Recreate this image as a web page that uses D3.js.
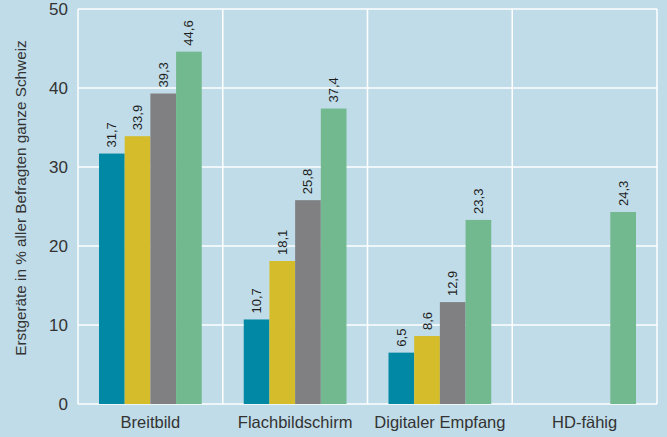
<!DOCTYPE html>
<html>
<head>
<meta charset="utf-8">
<script src="https://cdn.jsdelivr.net/npm/d3@7"></script>
<style>
  html, body { margin: 0; padding: 0; background: #c0dce8; }
  svg { display: block; }
</style>
</head>
<body>
<svg width="667" height="437"></svg>
<script>
// categories and series (4 survey years, last one only for HD)
const categories = ["Breitbild", "Flachbildschirm", "Digitaler Empfang", "HD-fähig"];
const series = ["s1", "s2", "s3", "s4"];
const values = [
  [31.7, 33.9, 39.3, 44.6],
  [10.7, 18.1, 25.8, 37.4],
  [6.5, 8.6, 12.9, 23.3],
  [null, null, null, 24.3]
];
const colors = ["#0088a5", "#d4bc2a", "#808083", "#73b98f"];
const yTicks = [0, 10, 20, 30, 40, 50];

const svg = d3.select("svg");
const margin = { top: 9, right: 10, bottom: 33, left: 78 };
const width = 667 - margin.left - margin.right;
const height = 437 - margin.top - margin.bottom;

const g = svg.append("g").attr("transform", `translate(${margin.left},${margin.top})`);

const x = d3.scaleBand().domain(categories).range([0, width]).paddingInner(0).paddingOuter(0);
const x1 = d3.scaleBand().domain(series).range([21, x.bandwidth() - 21]);
const y = d3.scaleLinear().domain([0, 50]).range([height, 0]);

// grid
g.append("g")
  .selectAll("line")
  .data(yTicks)
  .join("line")
  .attr("x1", 0).attr("x2", width)
  .attr("y1", d => y(d)).attr("y2", d => y(d))
  .attr("stroke", "#fff").attr("stroke-width", 1.5);

g.append("g")
  .selectAll("line")
  .data(categories.map(c => x(c)).concat([width]))
  .join("line")
  .attr("x1", d => d).attr("x2", d => d)
  .attr("y1", 0).attr("y2", height)
  .attr("stroke", "#fff").attr("stroke-width", 1.5);

// bars
const rows = categories.flatMap((c, i) =>
  series.map((s, j) => ({ cat: c, s, v: values[i][j], color: colors[j] }))
).filter(d => d.v != null);

g.append("g")
  .selectAll("rect")
  .data(rows)
  .join("rect")
  .attr("x", d => x(d.cat) + x1(d.s))
  .attr("width", x1.bandwidth())
  .attr("y", d => y(d.v))
  .attr("height", d => y(0) - y(d.v))
  .attr("fill", d => d.color);

// value labels
g.append("g")
  .selectAll("text")
  .data(rows)
  .join("text")
  .attr("transform", d => `translate(${x(d.cat) + x1(d.s) + x1.bandwidth() / 2 + 4.5},${y(d.v) - 6}) rotate(-90)`)
  .attr("font-family", "Liberation Sans, Arial, sans-serif")
  .attr("font-size", 13)
  .attr("fill", "#1e1e1e")
  .text(d => String(d.v).replace(".", ","));

// y axis labels
const yAxis = g.append("g")
  .call(d3.axisLeft(y).tickValues(yTicks).tickSize(0).tickPadding(10));
yAxis.select(".domain").remove();
yAxis.selectAll("text")
  .attr("font-family", "Liberation Sans, Arial, sans-serif")
  .attr("font-size", 17)
  .attr("fill", "#333");

// x axis labels
const xAxis = g.append("g")
  .attr("transform", `translate(0,${height})`)
  .call(d3.axisBottom(x).tickSize(0).tickPadding(12));
xAxis.select(".domain").remove();
xAxis.selectAll("text")
  .attr("font-family", "Liberation Sans, Arial, sans-serif")
  .attr("font-size", 16.5)
  .attr("fill", "#333");

// y title
svg.append("text")
  .attr("transform", `translate(26,198) rotate(-90)`)
  .attr("text-anchor", "middle")
  .attr("font-family", "Liberation Sans, Arial, sans-serif")
  .attr("font-size", 15.3)
  .attr("fill", "#333")
  .text("Erstgeräte in % aller Befragten ganze Schweiz");
</script>
</body>
</html>
